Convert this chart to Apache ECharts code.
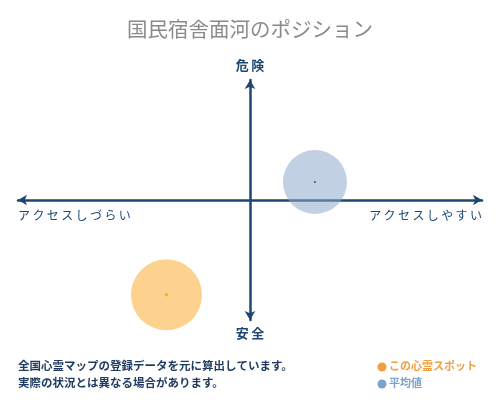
<!DOCTYPE html>
<html>
<head>
<meta charset="utf-8">
<script src="https://cdn.jsdelivr.net/npm/echarts@6/dist/echarts.min.js"></script>
<style>html,body{margin:0;padding:0;background:#fff}#c{width:500px;height:400px}</style>
</head>
<body>
<div id="c"></div>
<script>
const titleText = '国民宿舎面河のポジション';
const axisLabels = { top: '危\u2009険', bottom: '安\u2009全', left: 'ア\u2009ク\u2009セ\u2009ス\u2009し\u2009づ\u2009ら\u2009い', right: 'ア\u2009ク\u2009セ\u2009ス\u2009し\u2009や\u2009す\u2009い' };
const spotPoint = [-36, -79];
const averagePoint = [28, 15];
const notes = ['全国心霊マップの登録データを元に算出しています。', '実際の状況とは異なる場合があります。'];
const legendNames = ['この心霊スポット', '平均値'];

const FONT = '"Noto Sans CJK JP", "DejaVu Serif", serif';
const NAVY = '#1d4673';
const chart = echarts.init(document.getElementById('c'));
chart.setOption({
  animation: false,
  title: { text: titleText, left: 'center', top: 14, textStyle: { fontFamily: FONT, fontSize: 20.5, fontWeight: 'normal', color: '#8a8a8a' } },
  grid: { left: 18, right: 18, top: 80, bottom: 80 },
  xAxis: {
    type: 'value', min: -100, max: 100,
    axisLine: { onZero: true, symbol: ['arrow', 'arrow'], symbolSize: [8, 9], lineStyle: { color: NAVY, width: 2.5 } },
    axisTick: { show: false }, axisLabel: { show: false }, splitLine: { show: false }
  },
  yAxis: {
    type: 'value', min: -100, max: 100,
    axisLine: { onZero: true, symbol: ['arrow', 'arrow'], symbolSize: [8, 9], lineStyle: { color: NAVY, width: 2.5 } },
    axisTick: { show: false }, axisLabel: { show: false }, splitLine: { show: false }
  },
  series: [
    { name: legendNames[1], type: 'scatter', data: [averagePoint], symbolSize: 64, itemStyle: { color: 'rgba(140,168,204,0.68)' }, z: 3 },
    { name: legendNames[0], type: 'scatter', data: [spotPoint], symbolSize: 71, itemStyle: { color: 'rgba(253,196,108,0.95)' }, z: 3 },
    { type: 'scatter', data: [averagePoint], symbolSize: 2, itemStyle: { color: '#223344' }, z: 4 },
    { type: 'scatter', data: [spotPoint], symbolSize: 4, symbol: 'diamond', itemStyle: { color: '#f0a020' }, z: 4 }
  ],
  graphic: [
    { type: 'text', left: 'center', top: 59, style: { text: axisLabels.top, font: 'bold 13px ' + FONT, fill: NAVY } },
    { type: 'text', left: 'center', top: 327, style: { text: axisLabels.bottom, font: 'bold 13px ' + FONT, fill: NAVY } },
    { type: 'text', left: 18, top: 209, style: { text: axisLabels.left, font: '12px ' + FONT, fill: NAVY } },
    { type: 'text', right: 18, top: 209, style: { text: axisLabels.right, font: '12px ' + FONT, fill: NAVY } },
    { type: 'text', left: 18, top: 360, style: { text: notes[0], font: 'bold 11.5px ' + FONT, fill: '#1f3a5f' } },
    { type: 'text', left: 18, top: 377, style: { text: notes[1], font: 'bold 11.5px ' + FONT, fill: '#1f3a5f' } },
    { type: 'circle', shape: { cx: 382, cy: 367, r: 4.5 }, style: { fill: '#f0a040' } },
    { type: 'text', left: 389, top: 360, style: { text: legendNames[0], font: 'bold 11px ' + FONT, fill: '#f0a040' } },
    { type: 'circle', shape: { cx: 382, cy: 384, r: 4.5 }, style: { fill: '#7ea3c8' } },
    { type: 'text', left: 389, top: 377, style: { text: legendNames[1], font: 'bold 11px ' + FONT, fill: '#7ea3c8' } }
  ]
});
</script>
</body>
</html>
